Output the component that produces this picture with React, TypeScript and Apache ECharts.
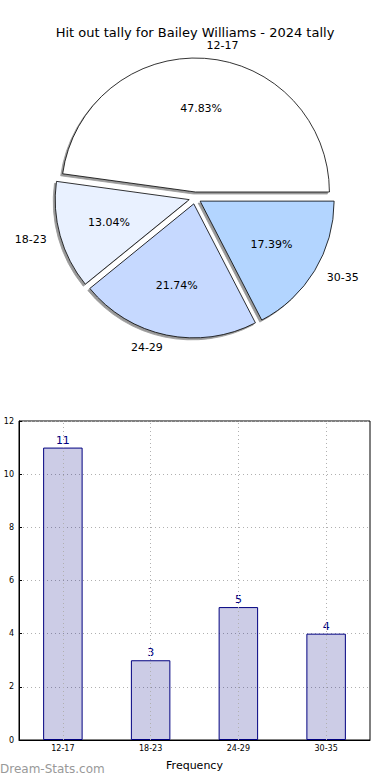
import React, { useEffect, useRef } from "react";
import * as echarts from "echarts";

const titleText = "Hit out tally for Bailey Williams - 2024 tally";
const categories = ["12-17", "18-23", "24-29", "30-35"];
const values = [11, 3, 5, 4];
const pieColors = ["#ffffff", "#e9f1ff", "#c6d9ff", "#b3d5ff"];
const yTicks = { min: 0, max: 12, interval: 2 };
const xName = "Frequency";
const yName = "Hit out tally";
const watermark = "Dream-Stats.com";

const FONT = "DejaVu Sans";

export default function App() {
  const ref = useRef<HTMLDivElement>(null);
  useEffect(() => {
    document.body.style.margin = "0";
    if (!ref.current) return;
    const chart = echarts.init(ref.current, undefined, { renderer: "svg" });
    const R = 134;
    const center = [195, 198];
    const pieData = categories.map((c, i) => ({
      name: c,
      value: values[i],
      selected: true,
      itemStyle: { color: pieColors[i] },
    }));
    chart.setOption({
      animation: false,
      textStyle: { fontFamily: FONT },
      title: {
        text: titleText,
        left: "center",
        top: 21,
        textStyle: { fontFamily: FONT, fontSize: 13, fontWeight: "normal", color: "#000" },
      },
      grid: {
        left: 19,
        right: 20,
        top: 421,
        bottom: 40,
        containLabel: false,
        outerBoundsMode: "none",
        show: true,
        borderColor: "#000",
        borderWidth: 1,
        backgroundColor: "transparent",
      },
      xAxis: {
        type: "category",
        data: categories,
        name: xName,
        nameLocation: "middle",
        nameGap: 20,
        nameTextStyle: { fontFamily: FONT, fontSize: 11, color: "#000" },
        axisLine: { show: true, lineStyle: { color: "#000" } },
        axisTick: { show: false },
        axisLabel: { fontFamily: FONT, fontSize: 8, color: "#000", margin: 4 },
        splitLine: { show: false },
      },
      yAxis: {
        type: "value",
        min: yTicks.min,
        max: yTicks.max,
        interval: yTicks.interval,
        name: yName,
        nameLocation: "middle",
        nameGap: 18,
        nameRotate: 90,
        nameTextStyle: { fontFamily: FONT, fontSize: 10, color: "#000" },
        axisLine: { show: true, lineStyle: { color: "#000" } },
        axisTick: { show: true, inside: true, length: 3, lineStyle: { color: "#000" } },
        axisLabel: { fontFamily: FONT, fontSize: 8, color: "#000", margin: 5 },
        splitLine: { show: true, lineStyle: { color: "#b0b0b0", type: [1, 3], width: 1 } },
      },
      series: [
        {
          type: "pie",
          center,
          radius: R,
          startAngle: 0,
          clockwise: false,
          selectedMode: "multiple",
          selectedOffset: 6,
          data: pieData,
          itemStyle: {
            borderColor: "#000",
            borderWidth: 0.8,
            shadowColor: "rgba(0,0,0,0.4)",
            shadowOffsetX: -2,
            shadowOffsetY: 2,
            shadowBlur: 0,
          },
          label: {
            show: true,
            position: "outside",
            formatter: "{b}",
            fontFamily: FONT,
            fontSize: 11,
            color: "#000",
            distanceToLabelLine: 1,
          },
          labelLine: { show: false, length: 13, length2: 0 },
          emphasis: { disabled: true },
          silent: true,
          z: 2,
        },
        {
          type: "pie",
          center,
          radius: R * 1.2,
          startAngle: 0,
          clockwise: false,
          selectedMode: "multiple",
          selectedOffset: 6,
          percentPrecision: 2,
          data: categories.map((c, i) => ({ name: c, value: values[i], selected: true })),
          itemStyle: { color: "transparent", borderWidth: 0 },
          label: {
            show: true,
            position: "inside",
            formatter: (p: any) => p.percent.toFixed(2) + "%",
            fontFamily: FONT,
            fontSize: 11,
            color: "#000",
          },
          labelLine: { show: false },
          emphasis: { disabled: true },
          silent: true,
          z: 3,
        },
        {
          type: "bar",
          data: values,
          barWidth: "45%",
          itemStyle: {
            color: "rgba(0,0,128,0.2)",
            borderColor: "#000080",
            borderWidth: 1,
          },
          label: {
            show: true,
            position: "top",
            distance: 2,
            fontFamily: FONT,
            fontSize: 11,
            color: "#000080",
          },
          markLine: {
            silent: true,
            symbol: "none",
            label: { show: false },
            lineStyle: { color: "#b0b0b0", type: [1, 3], width: 1 },
            data: categories.map((c) => ({ xAxis: c })),
          },
          emphasis: { disabled: true },
        },
      ],
      graphic: [
        {
          type: "text",
          left: 0,
          top: 763,
          style: {
            text: watermark,
            fontFamily: FONT,
            fontSize: 12,
            fontWeight: "normal",
            fill: "#999999",
          },
        },
      ],
    });
    return () => chart.dispose();
  }, []);
  return <div ref={ref} style={{ width: 390, height: 780 }} />;
}
